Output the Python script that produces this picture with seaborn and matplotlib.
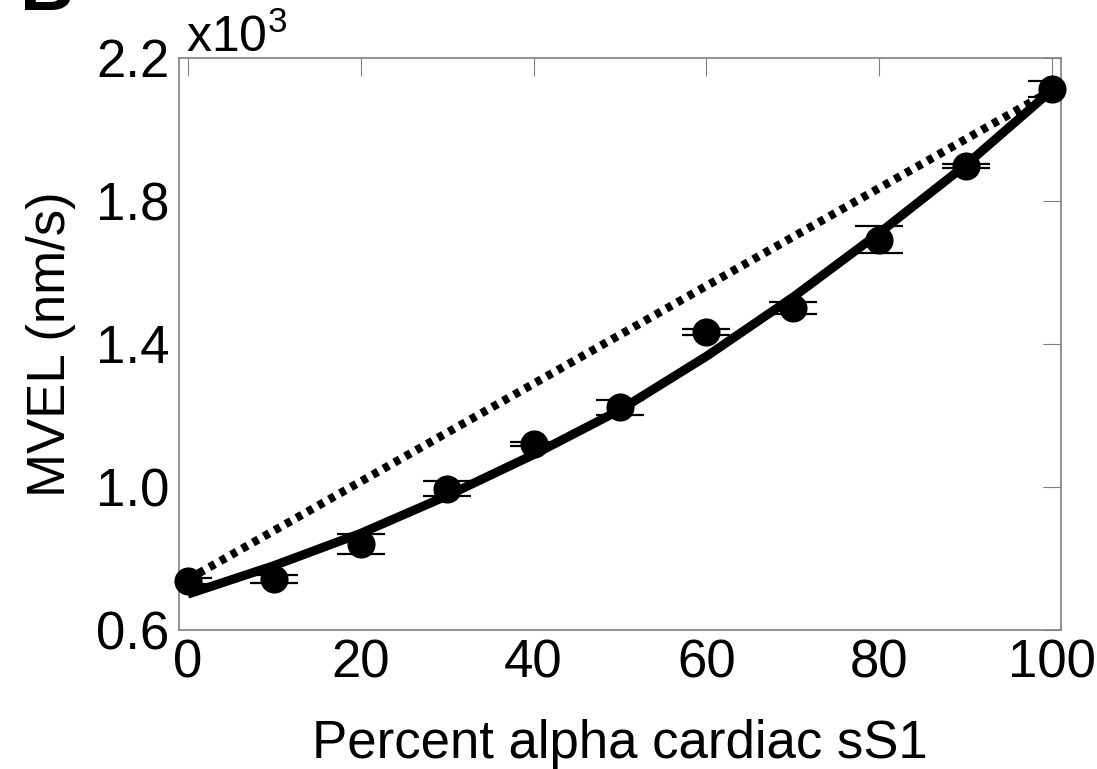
import matplotlib
matplotlib.use("Agg")
import matplotlib.pyplot as plt
import seaborn as sns
import pandas as pd

# ---- data (MVEL in units of 10^3 nm/s) ----
pct_alpha = [0, 10, 20, 30, 40, 50, 60, 70, 80, 90, 100]
mvel_mean = [0.736, 0.742, 0.840, 0.995, 1.119, 1.222, 1.432, 1.501, 1.691, 1.896, 2.112]
mvel_err = [0.008, 0.011, 0.029, 0.021, 0.006, 0.021, 0.008, 0.017, 0.038, 0.006, 0.022]

fit_x = [0, 10, 20, 30, 40, 50, 60, 70, 80, 90, 100]
fit_y = [0.700, 0.780, 0.870, 0.975, 1.090, 1.215, 1.365, 1.530, 1.710, 1.900, 2.110]

linear_x = [0, 100]
linear_y = [0.741, 2.109]

x_ticks = [0, 20, 40, 60, 80, 100]
y_ticks = [0.6, 1.0, 1.4, 1.8, 2.2]

sns.set_theme(style="white")
plt.rcParams['font.family'] = ['Liberation Sans', 'DejaVu Sans']
plt.rcParams['mathtext.default'] = 'regular'
plt.rcParams['text.color'] = 'black'
plt.rcParams['axes.labelcolor'] = 'black'

fig = plt.figure(figsize=(10.97, 7.69), dpi=100)
ax = fig.add_axes([0.1632, 0.1808, 0.9672 - 0.1632, 0.9252 - 0.1808])

df_fit = pd.DataFrame({"x": fit_x, "y": fit_y})
df_lin = pd.DataFrame({"x": linear_x, "y": linear_y})
df_pts = pd.DataFrame({"x": pct_alpha, "y": mvel_mean})

sns.lineplot(data=df_lin, x="x", y="y", ax=ax, color="black", linewidth=6.0,
             zorder=2)
ax.lines[-1].set_dashes((0.75, 0.75))
ax.lines[-1].set_dash_capstyle('butt')

sns.lineplot(data=df_fit, x="x", y="y", ax=ax, color="black", linewidth=6.5,
             zorder=3)
ax.lines[-1].set_solid_capstyle('butt')
ax.lines[-1].set_solid_joinstyle('round')

ax.errorbar(pct_alpha, mvel_mean, yerr=mvel_err, fmt='none', ecolor='black',
            elinewidth=1.5, capsize=17, capthick=1.6, zorder=4)
sns.scatterplot(data=df_pts, x="x", y="y", ax=ax, color="black", s=410,
                edgecolor="black", linewidth=0, zorder=5, clip_on=False)

ax.set_xlim(-1, 101)
ax.set_ylim(0.6, 2.2)
ax.set_xticks(x_ticks)
ax.set_yticks(y_ticks)
ax.set_yticklabels([f"{v:.1f}" for v in y_ticks])
ax.set_xticklabels([str(v) for v in x_ticks])

ax.tick_params(direction='in', length=13, width=0.8, color='#808080',
               labelsize=38, top=True, right=True, labelcolor='black')
ax.tick_params(axis='x', pad=6)
ax.tick_params(axis='y', pad=7)
for s in ax.spines.values():
    s.set_color('#808080')
    s.set_linewidth(1.2)
    s.set_visible(True)

ax.set_xlabel("Percent alpha cardiac sS1", fontsize=38, labelpad=22)
ax.set_ylabel("MVEL (nm/s)", fontsize=38, labelpad=14)

ax.text(0.008, 1.009, r"x10$^{3}$", transform=ax.transAxes, fontsize=36,
        ha='left', va='baseline')

fig.text(20 / 1097, 1 - 10 / 769, "B", fontsize=54, fontweight='bold',
         ha='left', va='baseline')

fig.savefig("out.png", dpi=100)
